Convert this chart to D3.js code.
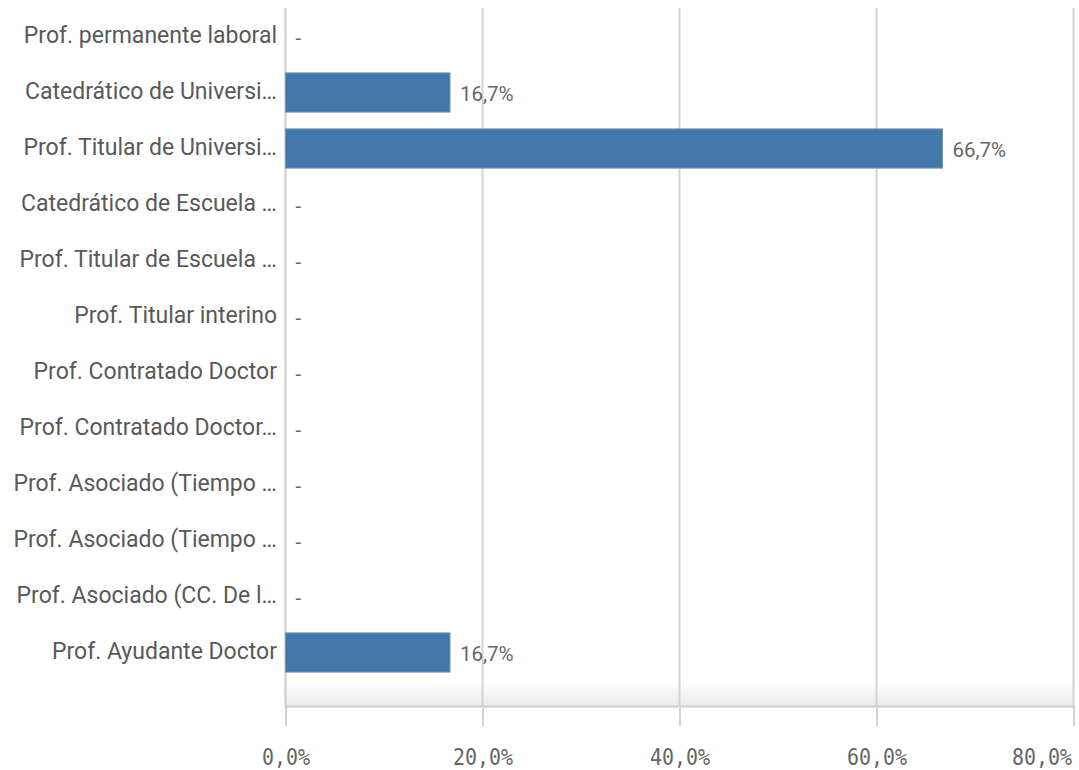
<!DOCTYPE html>
<html><head><meta charset="utf-8">
<script src="https://cdn.jsdelivr.net/npm/d3@7"></script>
<style>
html,body{margin:0;padding:0;background:#fff;}
svg{display:block;}
</style></head>
<body>
<svg id="chart" width="1079" height="770"></svg>
<script>
const categories = [
  "Prof. permanente laboral",
  "Catedrático de Universi…",
  "Prof. Titular de Universi…",
  "Catedrático de Escuela …",
  "Prof. Titular de Escuela …",
  "Prof. Titular interino",
  "Prof. Contratado Doctor",
  "Prof. Contratado Doctor…",
  "Prof. Asociado (Tiempo …",
  "Prof. Asociado (Tiempo …",
  "Prof. Asociado (CC. De l…",
  "Prof. Ayudante Doctor"
];
const values = [null, 0.167, 0.667, null, null, null, null, null, null, null, null, 0.167];
const tickValues = [0, 0.2, 0.4, 0.6, 0.8];
const tickLabels = ["0,0%", "20,0%", "40,0%", "60,0%", "80,0%"];

const svg = d3.select("#chart");
const x = d3.scaleLinear().domain([0, 0.8]).range([285.5, 1073.5]);
const idx = d3.range(categories.length);
const y = d3.scaleBand().domain(idx).range([8.5, 680.5]).paddingInner(0.3).paddingOuter(0.15);
const plotTop = 8, axisY = 706;
const labelFont = "Roboto, 'Noto Sans', sans-serif";

const defs = svg.append("defs");
const grad = defs.append("linearGradient").attr("id","fade").attr("x1",0).attr("y1",0).attr("x2",0).attr("y2",1);
grad.append("stop").attr("offset","0%").attr("stop-color","#ffffff");
grad.append("stop").attr("offset","100%").attr("stop-color","#ececec");
svg.append("rect").attr("x", x(0)).attr("y", 680).attr("width", x(0.8)-x(0)).attr("height", axisY-680).attr("fill","url(#fade)");

// gridlines
svg.append("g").selectAll("line").data(tickValues).join("line")
  .attr("x1", d => x(d)).attr("x2", d => x(d))
  .attr("y1", plotTop).attr("y2", axisY)
  .attr("stroke", "#d4d4d4").attr("stroke-width", 2);

// bottom axis
const axis = d3.axisBottom(x).tickValues(tickValues).tickFormat((d,i) => tickLabels[i]).tickSize(20).tickPadding(22);
const ag = svg.append("g").attr("transform", `translate(0,${axisY})`).call(axis);
ag.select(".domain").attr("stroke", "#cccccc").attr("stroke-width", 2);
ag.selectAll(".tick line").attr("stroke", "#d4d4d4").attr("stroke-width", 2).attr("y1", 2);
ag.selectAll(".tick text")
  .attr("fill", "#666666")
  .attr("font-family", "'DejaVu Sans Mono', 'Liberation Mono', monospace")
  .attr("font-size", 23)
  .attr("y", 59).attr("dy", 0)
  .attr("text-anchor", (d,i) => i === tickValues.length - 1 ? "end" : "middle")
  .attr("x", (d,i) => i === tickValues.length - 1 ? -2 : 0)
  .attr("textLength", (d,i) => tickLabels[i].length * 12)
  .attr("lengthAdjust", "spacingAndGlyphs");

// left vertical line (category axis)
svg.append("line").attr("x1", x(0)).attr("x2", x(0)).attr("y1", plotTop).attr("y2", axisY)
  .attr("stroke", "#d4d4d4").attr("stroke-width", 2);

// category labels
svg.append("g").selectAll("text").data(idx).join("text")
  .attr("x", 277).attr("y", i => y(i) + y.bandwidth()/2 + 6)
  .attr("text-anchor", "end")
  .attr("fill", "#595959").attr("font-family", labelFont).attr("font-size", 23)
  .text(i => categories[i]);

const rows = idx.map(i => ({i, v: values[i]}));

// bars
svg.append("g").selectAll("rect").data(rows.filter(r => r.v !== null)).join("rect")
  .attr("x", x(0)).attr("y", d => y(d.i))
  .attr("width", d => x(d.v) - x(0)).attr("height", y.bandwidth())
  .attr("fill", "#4477aa").attr("stroke", "#6f97c0").attr("stroke-width", 1);

// value labels
svg.append("g").selectAll("text").data(rows).join("text")
  .attr("x", d => d.v === null ? x(0) + 10 : x(d.v) + 10)
  .attr("y", d => y(d.i) + y.bandwidth()/2 + 8)
  .attr("fill", "#666666").attr("font-family", labelFont).attr("font-size", 20.5)
  .text(d => d.v === null ? "-" : d3.format(".1f")(d.v*100).replace(".", ",") + "%");
</script>
</body></html>
